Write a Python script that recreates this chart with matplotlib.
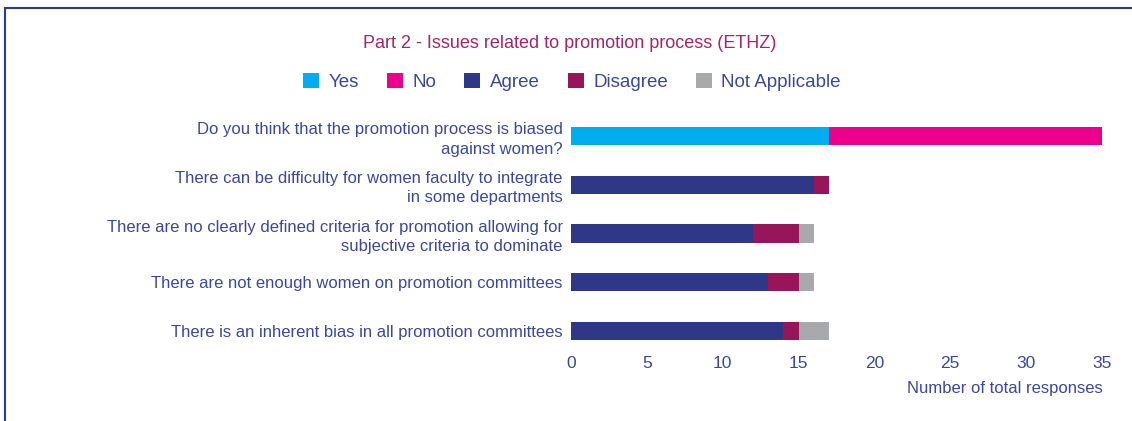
"""Stacked horizontal bars: issues related to promotion process (ETHZ)."""
import matplotlib.pyplot as plt
from matplotlib.lines import Line2D

questions = [
    "Do you think that the promotion process is biased\nagainst women?",
    "There can be difficulty for women faculty to integrate\nin some departments",
    "There are no clearly defined criteria for promotion allowing for\nsubjective criteria to dominate",
    "There are not enough women on promotion committees",
    "There is an inherent bias in all promotion committees",
]
yes = [17, 0, 0, 0, 0]
no = [18, 0, 0, 0, 0]
agree = [0, 16, 12, 13, 14]
disagree = [0, 1, 3, 2, 1]
not_applicable = [0, 0, 1, 1, 2]
series_names = ["Yes", "No", "Agree", "Disagree", "Not Applicable"]
x_ticks = [0, 5, 10, 15, 20, 25, 30, 35]

colors = ["#00aeef", "#ec008c", "#2e3886", "#97165a", "#a7a9ac"]
text_color = "#3c4897"
title_color = "#a3256b"

plt.rcParams["font.family"] = ["Liberation Sans", "DejaVu Sans"]

fig = plt.figure(figsize=(11.32, 4.21), dpi=100)
ax = fig.add_axes([571 / 1132, 66 / 421, 531 / 1132, 243 / 421])

ypos = list(range(len(questions)))
left = [0] * len(questions)
for name, vals, col in zip(series_names, [yes, no, agree, disagree, not_applicable], colors):
    ax.barh(ypos, vals, left=left, height=0.37, color=col, label=name)
    left = [a + b for a, b in zip(left, vals)]

ax.set_xlim(0, 35)
ax.set_ylim(4.49, -0.49)
ax.set_yticks(ypos)
ax.set_yticklabels(questions, fontsize=12, color=text_color, linespacing=1.35)
ax.set_xticks(x_ticks)
ax.set_xticklabels([str(t) for t in x_ticks], fontsize=12.5, color=text_color)
ax.tick_params(length=0)
ax.tick_params(axis="x", pad=1)
ax.tick_params(axis="y", pad=6)
for s in ax.spines.values():
    s.set_visible(False)

fig.text(1103 / 1132, 1 - 389 / 421, "Number of total responses", ha="right", va="center",
         fontsize=12, color=text_color)
fig.text(570 / 1132, 1 - 43 / 421, "Part 2 - Issues related to promotion process (ETHZ)",
         ha="center", va="center", fontsize=13, color=title_color)

handles, labels = ax.get_legend_handles_labels()
leg = fig.legend(handles, labels, loc="center", bbox_to_anchor=(572 / 1132, 1 - 82 / 421),
                 ncol=5, frameon=False, fontsize=13.5, handlelength=0.85, handleheight=0.85,
                 handletextpad=0.5, columnspacing=1.5)
for t in leg.get_texts():
    t.set_color(text_color)

# thin border along the top and left of the frame
fig.add_artist(Line2D([5 / 1132, 5 / 1132], [0, 1 - 8 / 421], color="#2e3a9a", lw=1.5))
fig.add_artist(Line2D([5 / 1132, 1], [1 - 8 / 421, 1 - 8 / 421], color="#2e3a9a", lw=1.5))

fig.savefig("out.png", dpi=100)
